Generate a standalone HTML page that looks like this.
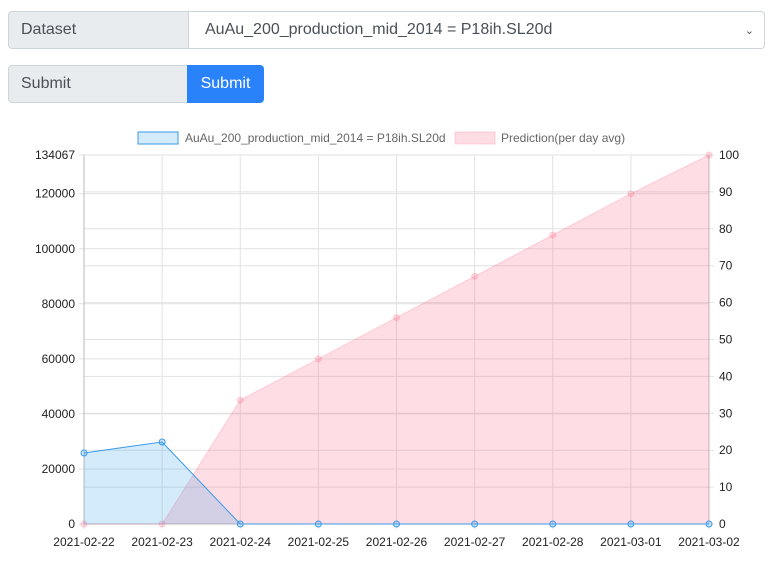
<!DOCTYPE html>
<html><head><meta charset="utf-8"><style>
body{margin:0;width:773px;height:567px;background:#fff;font-family:"Liberation Sans",sans-serif;position:relative;overflow:hidden}
.lbl{position:absolute;background:#e9ecef;border:1px solid #ced4da;border-radius:4px 0 0 4px;color:#495057;font-size:16px;box-sizing:border-box;padding-left:12px;display:flex;align-items:center}
.sel{position:absolute;border:1px solid #ced4da;border-radius:0 4px 4px 0;box-sizing:border-box;font-size:16px;color:#495057;padding-left:16px;display:flex;align-items:center;background:#fff}
.btn{position:absolute;background:#2a82fb;color:#fff;border-radius:0 4px 4px 0;font-size:16px;display:flex;align-items:center;justify-content:center}
</style></head><body>
<div class="lbl" style="left:8px;top:11px;width:181px;height:38px">Dataset</div>
<div class="sel" style="left:188px;top:11px;width:577px;height:38px">AuAu_200_production_mid_2014 = P18ih.SL20d<span style="position:absolute;right:10px;font-size:11px">&#8964;</span></div>
<div class="lbl" style="left:8px;top:65px;width:181px;height:38px">Submit</div>
<div class="btn" style="left:187px;top:65px;width:77px;height:38px">Submit</div>
<svg id="chart" width="773" height="567" style="position:absolute;left:0;top:0" font-family="Liberation Sans, sans-serif" font-size="12"></svg>
<script>
const categories=["2021-02-22","2021-02-23","2021-02-24","2021-02-25","2021-02-26","2021-02-27","2021-02-28","2021-03-01","2021-03-02"];
const actualValues=[25800,29800,0,0,0,0,0,0,0];
const predictionValues=[0,0,45000,60000,75000,90000,105000,120000,134067];
const leftTicks=[0,20000,40000,60000,80000,100000,120000,134067];
const rightTicks=[0,10,20,30,40,50,60,70,80,90,100];
const leftMax=134067,rightMax=100;
const X0=84,X1=709,Y0=524,Y1=155;
const svg=document.getElementById('chart');
const NS='http://www.w3.org/2000/svg';
function x(i){return X0+(X1-X0)*i/(categories.length-1);}
function yl(v){return Y0-(Y0-Y1)*v/leftMax;}
function yr(v){return Y0-(Y0-Y1)*v/rightMax;}
function mk(t,a,p){const e=document.createElementNS(NS,t);for(const k in a)e.setAttribute(k,a[k]);(p||svg).appendChild(e);return e;}
rightTicks.forEach(v=>{const l=mk('line',{x1:X0,x2:X1+5,y1:yr(v),y2:yr(v),stroke:'#e2e2e2'});


const t=mk('text',{x:X1+10,y:yr(v)+4,fill:'#222'});t.textContent=v;

});
leftTicks.forEach(v=>{const l=mk('line',{x1:X0-5,x2:X1,y1:yl(v),y2:yl(v),stroke:'#e2e2e2'});


const t=mk('text',{x:X0-9,y:yl(v)+4,fill:'#222','text-anchor':'end'});t.textContent=v;

});
categories.forEach((c,i)=>{const l=mk('line',{x1:x(i),x2:x(i),y1:Y1,y2:Y0+5,stroke:'#e2e2e2'});


const t=mk('text',{x:x(i),y:Y0+22,fill:'#222','text-anchor':'middle'});t.textContent=c;

});
mk('line',{x1:X0,x2:X0,y1:Y1,y2:Y0,stroke:'#bbb'});mk('line',{x1:X1,x2:X1,y1:Y1,y2:Y0,stroke:'#bbb'});mk('line',{x1:X0,x2:X1,y1:Y0,y2:Y0,stroke:'#bbb'});
function area(vals,fill,stroke,name){
 const pts=vals.map((v,i)=>x(i)+','+yl(v)).join(' ');
 const a=mk('polygon',{points:pts+' '+x(vals.length-1)+','+Y0+' '+x(0)+','+Y0,fill:fill});
 
 
 const l=mk('polyline',{points:pts,fill:'none',stroke:stroke,'stroke-width':1});
 
 
 vals.forEach((v,i)=>{const c=mk('circle',{cx:x(i),cy:yl(v),r:3,fill:fill,stroke:stroke});
 
 });
}
area(predictionValues,'rgba(255,99,132,0.22)','rgba(255,99,132,0.25)','prediction');
area(actualValues,'rgba(54,162,235,0.22)','#3a9ae8','actual');
const lg=mk('g',{});
const r1=mk('rect',{x:138,y:132,width:40,height:12,fill:'rgba(54,162,235,0.22)',stroke:'#3a9ae8'},lg);

const t1=mk('text',{x:185,y:142,fill:'#666'},lg);t1.textContent='AuAu_200_production_mid_2014 = P18ih.SL20d';

const r2=mk('rect',{x:455,y:132,width:40,height:12,fill:'rgba(255,99,132,0.22)',stroke:'rgba(255,99,132,0.25)'},lg);

const t2=mk('text',{x:501,y:142,fill:'#666'},lg);t2.textContent='Prediction(per day avg)';

</script>
</body></html>
